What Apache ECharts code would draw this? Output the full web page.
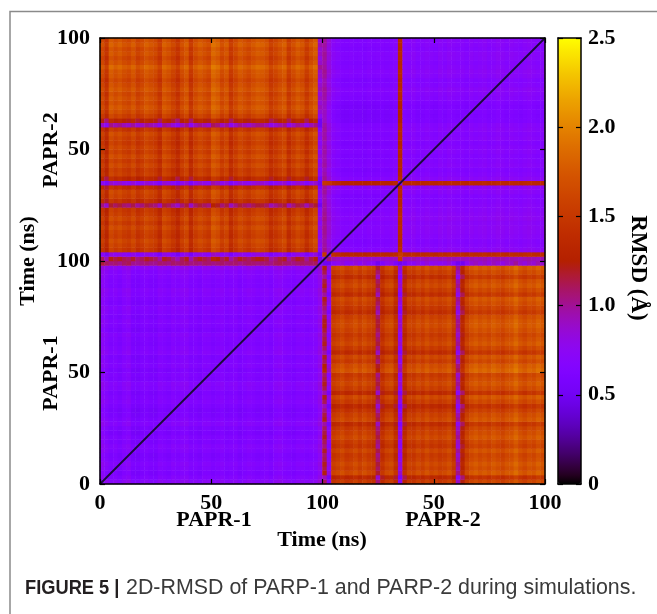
<!DOCTYPE html>
<html><head><meta charset="utf-8">
<script src="https://cdn.jsdelivr.net/npm/echarts@6/dist/echarts.min.js"></script>
<style>html,body{margin:0;padding:0;background:#fff}#c{width:657px;height:614px}</style>
</head><body><div id="c"></div>
<script>
// ---- data (2-ns bins, 50 bins per 100-ns run) ----
const runLengthNs = 100;
const binsPerRun = 50;
const runLabels = ['PAPR-1', 'PAPR-2'];
const axisTickValues = [0, 50, 100, 150, 200];
const axisTickLabels = ['0', '50', '100', '50', '100'];
const colorTickValues = [0, 0.5, 1.0, 1.5, 2.0, 2.5];
const colorTickLabels = ['0', '0.5', '1.0', '1.5', '2.0', '2.5'];

// cross RMSD (PARP-1 frame vs PARP-2 frame): level + per-frame offsets
const crossBase = 1.6;
const crossFloor = 0.5;
const p1Cross = [-0.05,-0.22,0.08,0.0,0.06,-0.02,-0.06,0.04,-0.1,-0.04,
                 0.06,0.0,-0.05,-0.18,0.06,0.0,-0.1,-0.22,-0.04,0.06,
                 -0.2,-0.02,0.06,0.0,-0.06,0.16,0.1,-0.04,0.05,-0.18,
                 -0.05,0.06,0.0,-0.06,0.02,0.08,0.06,0.0,-0.16,-0.08,
                 0.0,0.06,-0.16,-0.04,0.06,0.0,-0.16,-0.02,0.08,-0.8];
const p2Cross = [-0.45,-0.85,-0.1,-0.04,0.02,-0.08,-0.05,0.03,-0.07,0.02,
                 -0.06,-0.1,-0.5,-0.18,-0.04,0.0,-0.2,-0.8,-0.25,-0.05,
                 -0.08,0.02,-0.06,0.04,-0.05,0.0,-0.07,-0.03,0.04,-0.12,
                 -0.65,-0.32,-0.04,0.06,0.12,0.05,0.1,0.04,0.12,0.06,
                 0.0,0.08,0.1,0.2,0.08,0.02,0.1,0.06,0.15,0.08];

// PARP-1 vs PARP-1
const p1SelfBase = 0.64;
const p1SelfRow = [0.08,0.02,-0.03,0.0,0.03,-0.02,-0.04,0.01,0.03,-0.02,
                   0.0,-0.05,-0.03,0.04,0.0,-0.04,-0.06,-0.02,0.02,0.0,
                   -0.03,0.03,0.05,-0.02,0.0,-0.04,0.02,0.0,-0.03,0.04,
                   0.01,-0.02,0.0,0.03,-0.04,0.0,0.02,-0.03,0.01,0.04,
                   -0.02,0.0,0.03,0.05,-0.01,0.0,0.02,0.04,0.1,0.42];
const p1SelfCol = [0.1,0.04,-0.02,0.01,-0.04,0.03,0.06,-0.05,-0.06,-0.02,
                   0.0,-0.04,-0.05,0.02,0.0,-0.03,0.03,0.0,0.04,0.05,
                   -0.02,0.0,-0.04,0.02,0.01,-0.03,0.0,0.03,-0.02,0.0,
                   0.02,-0.04,0.0,0.03,0.01,-0.02,0.0,0.02,-0.03,0.04,
                   0.06,0.02,0.0,-0.03,0.01,0.03,0.0,0.02,0.04,0.14];

// PARP-2 vs PARP-2
const p2SelfBase = 0.66;
const selfCeil = 1.5;
const p2SelfRow = [0.25,0.7,0.06,0.02,0.0,0.03,0.05,0.06,0.04,0.07,
                   0.05,0.03,0.02,0.0,-0.02,0.03,0.04,0.66,0.05,0.0,
                   -0.03,0.02,0.0,-0.02,0.01,0.0,-0.03,0.02,0.0,0.03,
                   0.01,-0.05,-0.06,-0.05,-0.06,-0.04,0.0,0.02,0.04,0.0,
                   -0.02,0.03,0.05,0.02,0.0,0.03,0.04,0.0,0.02,0.03];
const p2SelfCol = [0.3,0.15,0.04,0.0,-0.04,-0.05,-0.03,-0.05,-0.04,-0.06,
                   -0.03,-0.05,-0.04,-0.02,-0.04,-0.03,0.0,0.66,0.02,0.0,
                   0.03,-0.02,0.0,0.02,0.0,-0.02,0.03,0.0,0.04,0.02,
                   0.0,0.01,-0.02,0.03,0.0,0.02,0.04,0.0,0.02,0.05,
                   0.03,0.0,0.04,0.02,0.0,0.03,0.05,0.02,0.0,0.03];

// ---- build the matrix table ----
const N = binsPerRun * 2;
const cats = Array.from({length: N}, (_, k) => k);
const cells = [];
for (let i = 0; i < N; i++) {
  for (let j = 0; j < N; j++) {
    const rowP1 = i < binsPerRun, colP1 = j < binsPerRun;
    const ii = i % binsPerRun, jj = j % binsPerRun;
    let v;
    if (rowP1 && colP1) v = (i === j) ? p1SelfBase : Math.min(selfCeil, p1SelfBase + p1SelfRow[ii] + p1SelfCol[jj]);
    else if (!rowP1 && !colP1) v = (i === j) ? p2SelfBase : Math.min(selfCeil, p2SelfBase + p2SelfRow[ii] + p2SelfCol[jj]);
    else if (!rowP1 && colP1) v = Math.max(crossFloor, crossBase + p1Cross[jj] + p2Cross[ii]);
    else v = Math.max(crossFloor, crossBase + p1Cross[ii] + p2Cross[jj]);
    cells.push([j, i, +v.toFixed(3)]);
  }
}
const totalNs = runLengthNs * 2;
const diagonal = [[0, 0], [totalNs, totalNs]];

// gnuplot "traditional" pm3d palette (rgbformulae 7,5,15)
function gpColor(x) {
  const h = v => Math.round(Math.min(1, Math.max(0, v)) * 255).toString(16).padStart(2, '0');
  return '#' + h(Math.sqrt(x)) + h(x * x * x) + h(Math.sin(2 * Math.PI * x));
}
const palette = Array.from({length: 61}, (_, k) => gpColor(k / 60));

const serif = "'Liberation Serif','Times New Roman',serif";
const sans = "'Liberation Sans',Arial,sans-serif";
const lab = {fontFamily: serif, fontWeight: 'bold', fontSize: 22, color: '#000'};
const blk = {color: '#000', width: 1.5};
const tickStyle = {show: true, inside: true, length: 5, lineStyle: {color: '#000', width: 1.2}};
const fmtMain = v => axisTickLabels[axisTickValues.indexOf(v)] ?? '';
const tx = (text, x, y, rot, size) => ({type: 'text', x, y, rotation: rot || 0, silent: true,
  style: {text, align: 'center', verticalAlign: 'middle', font: 'bold ' + (size || 22) + 'px ' + serif, fill: '#000'}});

const chart = echarts.init(document.getElementById('c'), null, {renderer: 'canvas'});
chart.setOption({
  animation: false,
  backgroundColor: '#fff',
  grid: [
    {left: 100, top: 38, width: 445, height: 446},
    {left: 100, top: 38, width: 445, height: 446},
    {left: 558, top: 38, width: 23, height: 446}
  ],
  xAxis: [
    {gridIndex: 0, type: 'category', data: cats, show: false},
    {gridIndex: 1, type: 'value', position: 'bottom', min: 0, max: totalNs, interval: 50, z: 10,
     axisLine: {show: true, onZero: false, lineStyle: blk}, axisTick: tickStyle, splitLine: {show: false},
     axisLabel: Object.assign({margin: 8, formatter: fmtMain}, lab)},
    {gridIndex: 1, type: 'value', position: 'top', min: 0, max: totalNs, interval: 50, z: 10,
     axisLine: {show: true, onZero: false, lineStyle: blk}, axisTick: tickStyle, splitLine: {show: false},
     axisLabel: {show: false}},
    {gridIndex: 2, type: 'value', position: 'bottom', min: 0, max: 1, z: 10,
     axisLine: {show: true, onZero: false, lineStyle: blk}, axisTick: {show: false}, splitLine: {show: false}, axisLabel: {show: false}},
    {gridIndex: 2, type: 'value', position: 'top', min: 0, max: 1, z: 10,
     axisLine: {show: true, onZero: false, lineStyle: blk}, axisTick: {show: false}, splitLine: {show: false}, axisLabel: {show: false}}
  ],
  yAxis: [
    {gridIndex: 0, type: 'category', data: cats, show: false},
    {gridIndex: 1, type: 'value', position: 'left', min: 0, max: totalNs, interval: 50, z: 10,
     axisLine: {show: true, onZero: false, lineStyle: blk}, axisTick: tickStyle, splitLine: {show: false},
     axisLabel: Object.assign({margin: 10, formatter: fmtMain}, lab)},
    {gridIndex: 1, type: 'value', position: 'right', min: 0, max: totalNs, interval: 50, z: 10,
     axisLine: {show: true, onZero: false, lineStyle: blk}, axisTick: tickStyle, splitLine: {show: false},
     axisLabel: {show: false}},
    {gridIndex: 2, type: 'value', position: 'right', min: 0, max: 2.5, interval: 0.5, z: 10,
     axisLine: {show: true, onZero: false, lineStyle: blk}, axisTick: tickStyle, splitLine: {show: false},
     axisLabel: Object.assign({margin: 7, formatter: v => colorTickLabels[colorTickValues.indexOf(v)] ?? ''}, lab)},
    {gridIndex: 2, type: 'value', position: 'left', min: 0, max: 2.5, interval: 0.5, z: 10,
     axisLine: {show: true, onZero: false, lineStyle: blk}, axisTick: tickStyle, splitLine: {show: false},
     axisLabel: {show: false}}
  ],
  visualMap: {
    type: 'continuous', min: 0, max: 2.5, seriesIndex: 0, calculable: false, hoverLink: false,
    left: 558, top: 38, itemWidth: 23, itemHeight: 446, padding: 0, z: 1,
    inRange: {color: palette}
  },
  series: [
    {type: 'heatmap', xAxisIndex: 0, yAxisIndex: 0, data: cells, progressive: 0, silent: true,
     itemStyle: {borderWidth: 0}, emphasis: {disabled: true}},
    {type: 'line', xAxisIndex: 1, yAxisIndex: 1, data: diagonal, symbol: 'none', silent: true, z: 5,
     lineStyle: {color: '#1c0b3a', width: 1.8}},
    {type: 'line', xAxisIndex: 3, yAxisIndex: 3, data: []}
  ],
  graphic: [
    {type: 'polyline', silent: true, shape: {points: [[10, 614], [10, 11.5], [657, 11.5]]}, style: {stroke: '#8a8a8a', lineWidth: 1.5, fill: null}},
    tx('Time (ns)', 28, 261, Math.PI / 2),
    tx(runLabels[1], 51, 150, Math.PI / 2),
    tx(runLabels[0], 51, 373, Math.PI / 2),
    tx(runLabels[0], 214, 520),
    tx(runLabels[1], 443, 520),
    tx('Time (ns)', 322, 540),
    tx('RMSD (Å)', 638, 268, -Math.PI / 2, 23),
    {type: 'text', x: 25, y: 588, scaleX: 0.87, silent: true,
     style: {text: 'FIGURE 5 |', verticalAlign: 'middle', font: 'bold 21px ' + sans, fill: '#231f20'}},
    {type: 'text', x: 126, y: 588, silent: true,
     style: {text: '2D-RMSD of PARP-1 and PARP-2 during simulations.', verticalAlign: 'middle', font: '21.4px ' + sans, fill: '#3a3a3a'}}
  ]
});
</script></body></html>
